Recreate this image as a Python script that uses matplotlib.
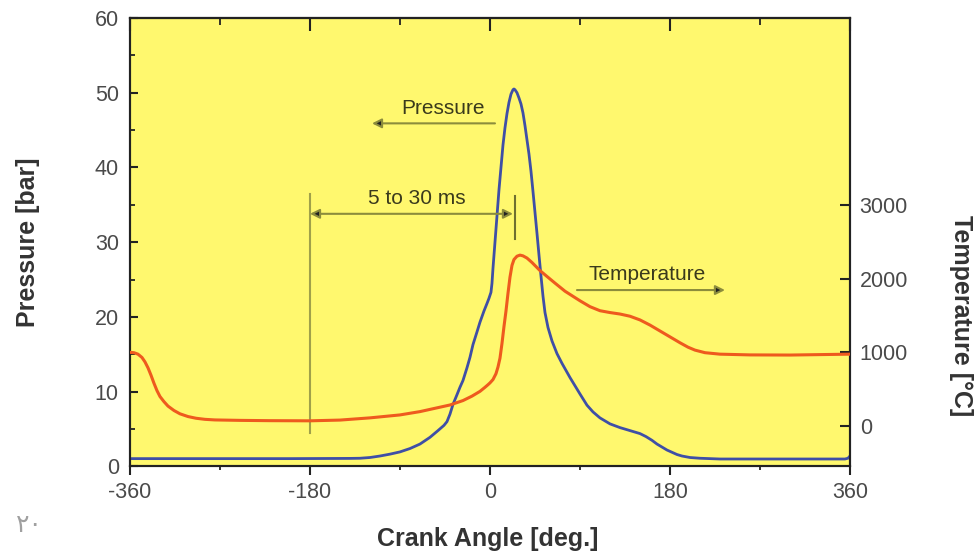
import matplotlib
matplotlib.use("Agg")
import matplotlib.pyplot as plt
from matplotlib.ticker import MultipleLocator

plt.rcParams['font.family'] = ['Liberation Sans', 'DejaVu Sans']
plt.rcParams['axes.unicode_minus'] = False

# Pressure curve (crank angle in deg, pressure in bar)
pressure_angle = [-360, -200, -140, -130, -120, -110, -100, -90, -80, -70, -60, -52, -46, -43,
                  -40, -37, -33, -30, -27, -23, -20, -17, -13, -10, -6, -3, -1, 1, 2, 3, 5,
                  7, 9, 11, 13, 15, 17, 19, 21, 23, 24, 25, 27, 29, 31, 33, 35, 37, 39, 41,
                  43, 45, 47, 49, 51, 53, 55, 58, 62, 67, 72, 80, 85, 90, 97, 103, 110, 120,
                  130, 140, 150, 156, 162, 167, 172, 177, 182, 187, 192, 200, 210, 230, 355,
                  358, 360]
pressure_bar = [1.05, 1.05, 1.08, 1.1, 1.2, 1.4, 1.65, 1.95, 2.4, 3.0, 3.9, 4.8, 5.5, 6.0,
                7.0, 8.3, 9.6, 10.6, 11.5, 13.2, 14.6, 16.3, 18.0, 19.3, 20.8, 21.8, 22.5,
                23.3, 24.5, 26.5, 30.0, 33.5, 37.0, 40.0, 43.0, 45.3, 47.2, 48.7, 49.8, 50.4,
                50.5, 50.4, 50.0, 49.3, 48.5, 47.3, 45.6, 43.7, 41.8, 39.5, 36.8, 34.0, 31.2,
                28.3, 25.5, 22.8, 20.6, 18.6, 16.8, 15.1, 13.8, 11.9, 10.8, 9.7, 8.2, 7.3,
                6.5, 5.7, 5.2, 4.8, 4.4, 4.0, 3.5, 3.0, 2.6, 2.2, 1.9, 1.6, 1.4, 1.2, 1.1,
                1.0, 1.0, 1.1, 1.4]

# Temperature curve (crank angle in deg, temperature in deg C)
temp_angle = [-360, -356, -352, -348, -345, -342, -339, -336, -333, -330, -326, -322, -316,
              -310, -302, -294, -285, -275, -250, -220, -180, -150, -120, -90, -70, -55, -40,
              -27, -18, -10, -5, -2, 0, 3, 6, 8, 10, 12, 14, 16, 18, 20, 22, 24, 27, 30, 33,
              37, 42, 50, 57, 65, 75, 90, 100, 110, 120, 130, 140, 150, 160, 170, 180, 190,
              198, 205, 215, 230, 260, 300, 360]
temp_c = [1000, 995, 975, 930, 870, 790, 690, 580, 480, 400, 330, 270, 210,
          165, 128, 105, 90, 82, 76, 72, 70, 80, 110, 150, 195, 240, 285,
          345, 405, 470, 525, 560, 585, 630, 710, 800, 920, 1120, 1350, 1560, 1800, 2020,
          2180, 2260, 2305, 2320, 2310, 2280, 2220, 2110, 2030, 1940, 1830, 1700, 1620,
          1565, 1540, 1520, 1490, 1440, 1370, 1290, 1210, 1130, 1070, 1030, 995, 975, 965,
          963, 975]

x_ticks = [-360, -180, 0, 180, 360]
p_ticks = [0, 10, 20, 30, 40, 50, 60]
t_ticks = [0, 1000, 2000, 3000]

bg = '#FFF86E'
spine_col = '#222222'
tick_col = '#4a4a4a'
ann_line = '#8c8c3c'
ann_text = '#3a3a1c'

fig = plt.figure(figsize=(9.78, 5.51), dpi=100)
ax = fig.add_axes([0.1329, 0.1534, 0.7362, 0.8140])
ax.set_facecolor(bg)

ax.plot(pressure_angle, pressure_bar, color='#3f4fa6', lw=2.0, zorder=3)
ax.set_xlim(-360, 360)
ax.set_ylim(0, 60)
ax.set_xticks(x_ticks)
ax.set_yticks(p_ticks)
ax.xaxis.set_minor_locator(MultipleLocator(90))
ax.yaxis.set_minor_locator(MultipleLocator(5))

ax2 = ax.twinx()
ax2.plot(temp_angle, temp_c, color='#EE5A1E', lw=2.2, zorder=3)
ax2.set_ylim(-550, 5540)
ax2.set_yticks(t_ticks)

for a in (ax, ax2):
    for s in a.spines.values():
        s.set_linewidth(1.5)
        s.set_color(spine_col)

ax.tick_params(axis='y', which='major', direction='in', length=6, width=1.5,
               labelsize=15.5, labelcolor=tick_col, pad=8, color=spine_col)
ax.tick_params(axis='y', which='minor', direction='in', length=3.5, width=1.3, color=spine_col)
ax.tick_params(axis='x', which='major', direction='out', length=6.5, width=1.5,
               labelsize=15.5, labelcolor=tick_col, pad=5, color=spine_col)
ax.tick_params(axis='x', which='minor', direction='out', length=3, width=1.3, color=spine_col)
ax2.tick_params(axis='y', which='major', direction='in', length=7, width=1.5,
                labelsize=15.5, labelcolor=tick_col, pad=7, color=spine_col)

# inward ticks on the top edge
top = ax.secondary_xaxis('top')
top.set_xticks(x_ticks)
top.xaxis.set_minor_locator(MultipleLocator(90))
top.tick_params(axis='x', which='major', direction='in', length=9, width=1.5,
                labeltop=False, color=spine_col)
top.tick_params(axis='x', which='minor', direction='in', length=5, width=1.3, color=spine_col)
top.spines['top'].set_linewidth(1.5)
top.spines['top'].set_color(spine_col)

ax.set_xlabel('Crank Angle [deg.]', fontsize=18, fontweight='bold', color='#333333',
              va='center', ha='center')
ax.xaxis.set_label_coords(0.497, -0.161)
ax.set_ylabel('Pressure [bar]', fontsize=18, fontweight='bold', color='#333333',
              va='center', ha='center')
ax.yaxis.set_label_coords(-0.141, 0.5)
ax2.set_ylabel('Temperature [°C]', fontsize=18, fontweight='bold', color='#333333',
               rotation=-90, va='center', ha='center')
ax2.yaxis.set_label_coords(1.154, 0.337)

# annotations
ax.text(-47, 47.9, 'Pressure', fontsize=15, color=ann_text, ha='center', va='center')
ax.annotate('', xy=(-118, 45.9), xytext=(5, 45.9),
            arrowprops=dict(arrowstyle='-|>', fc='#222222', ec=ann_line, lw=1.5,
                            mutation_scale=14, shrinkA=0, shrinkB=0))

ax.text(-73, 35.8, '5 to 30 ms', fontsize=15, color=ann_text, ha='center', va='center')
ax.annotate('', xy=(-180, 33.8), xytext=(23, 33.8),
            arrowprops=dict(arrowstyle='<|-|>', fc='#222222', ec=ann_line, lw=1.5,
                            mutation_scale=14, shrinkA=0, shrinkB=0))
ax.plot([-180, -180], [4.5, 36.5], color='#a0a04a', lw=1.5, zorder=2)
ax.plot([25, 25], [30.4, 36.2], color='#6f6f30', lw=1.5, zorder=4)

ax.text(157, 25.7, 'Temperature', fontsize=15, color=ann_text, ha='center', va='center',
        zorder=5)
ax.annotate('', xy=(235, 23.6), xytext=(87, 23.6),
            arrowprops=dict(arrowstyle='-|>', fc='#222222', ec=ann_line, lw=1.5,
                            mutation_scale=14, shrinkA=0, shrinkB=0))

fig.text(0.016, 0.047, '٢٠', fontsize=18, color='#a0a0a0', family='DejaVu Sans',
         ha='left', va='center')

fig.savefig('out.png', dpi=100)
